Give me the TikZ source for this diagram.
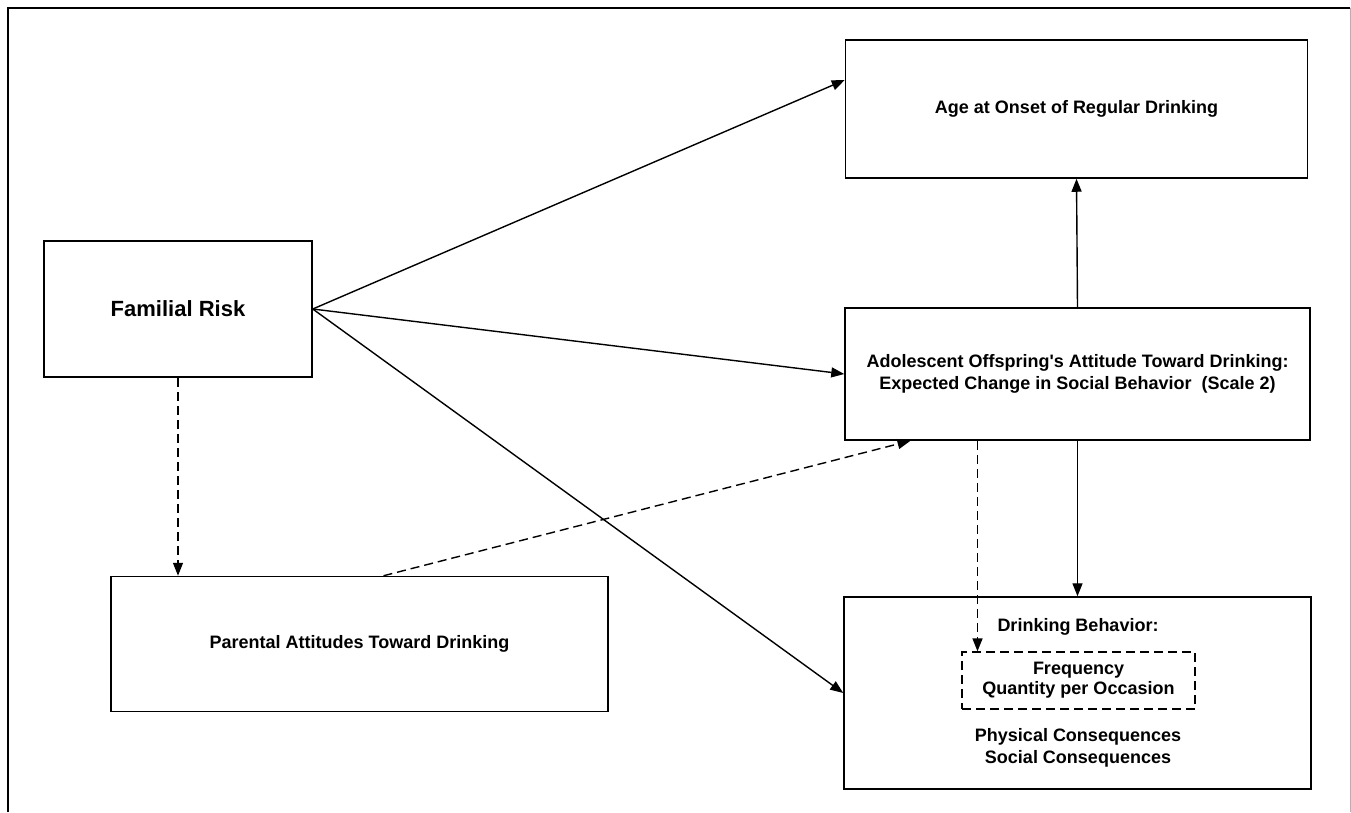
\documentclass[tikz,border=0pt]{standalone}
\usepackage{fontspec}
\setmainfont{Liberation Sans}
\usetikzlibrary{arrows.meta}

\tikzset{
  box/.style={draw, line width=1.5pt, align=center, inner sep=0pt,
    font=\bfseries\fontsize{18}{22}\selectfont},
  innerbox/.style={box, dash pattern=on 9pt off 5pt, line width=1.3pt},
  link/.style={line width=1.4pt, -{Triangle[length=13pt,width=10pt]}},
  dashlink/.style={link, dash pattern=on 9pt off 5pt}
}

\begin{document}
\begin{tikzpicture}[x=1pt, y=-1pt]
\useasboundingbox (0,0) rectangle (1351,812);
% frame
    \draw[line width=1.6pt] (8,812) -- (8,8) -- (1350,8);
    \draw[line width=1pt, gray!60] (1350,8) -- (1350,812);
% boxes
    \node[box, minimum width=268pt, minimum height=136pt, font=\bfseries\fontsize{22}{26}\selectfont]
        (risk) at (178,309) {Familial Risk};
    \node[box, minimum width=497pt, minimum height=135pt]
        (parent) at (359.5,644) {Parental Attitudes Toward Drinking};
    \node[box, minimum width=462pt, minimum height=138pt]
        (age) at (1076.5,109) {Age at Onset of Regular Drinking};
    \node[box, minimum width=465pt, minimum height=132pt]
        (adol) at (1077.5,374) {Adolescent Offspring\textquotesingle s Attitude Toward Drinking:\\Expected Change in Social Behavior\ \ (Scale 2)};
    \node[box, minimum width=467pt, minimum height=192pt]
        (drink) at (1077.5,693) {};
    \node[font=\bfseries\fontsize{18}{22}\selectfont]
        (behav) at (1078,627) {Drinking Behavior:};
    \node[innerbox, minimum width=233pt, minimum height=57pt]
        (freq) at (1078.5,680.5) {Frequency\\[-2pt]Quantity per Occasion};
    \node[font=\bfseries\fontsize{18}{22}\selectfont, align=center]
        (conseq) at (1078,748) {Physical Consequences\\Social Consequences};
% solid paths
    \draw[link] (risk.east) -- ([yshift=29pt]age.west);
    \draw[link] (risk.east) -- (adol.west);
    \draw[link] (risk.east) -- (drink.west);
    \draw[link] (adol.north) -- (age.south);
    \draw[link] (adol.south) -- (drink.north);
% dashed paths
    \draw[dashlink] (risk.south) -- (risk.south |- parent.north);
    \draw[dashlink] ([xshift=24pt]parent.north) -- ([xshift=-167pt]adol.south);
    \draw[dashlink] ([xshift=-100pt]adol.south) -- ([xshift=-100pt]adol.south |- freq.north);
\end{tikzpicture}
\end{document}
